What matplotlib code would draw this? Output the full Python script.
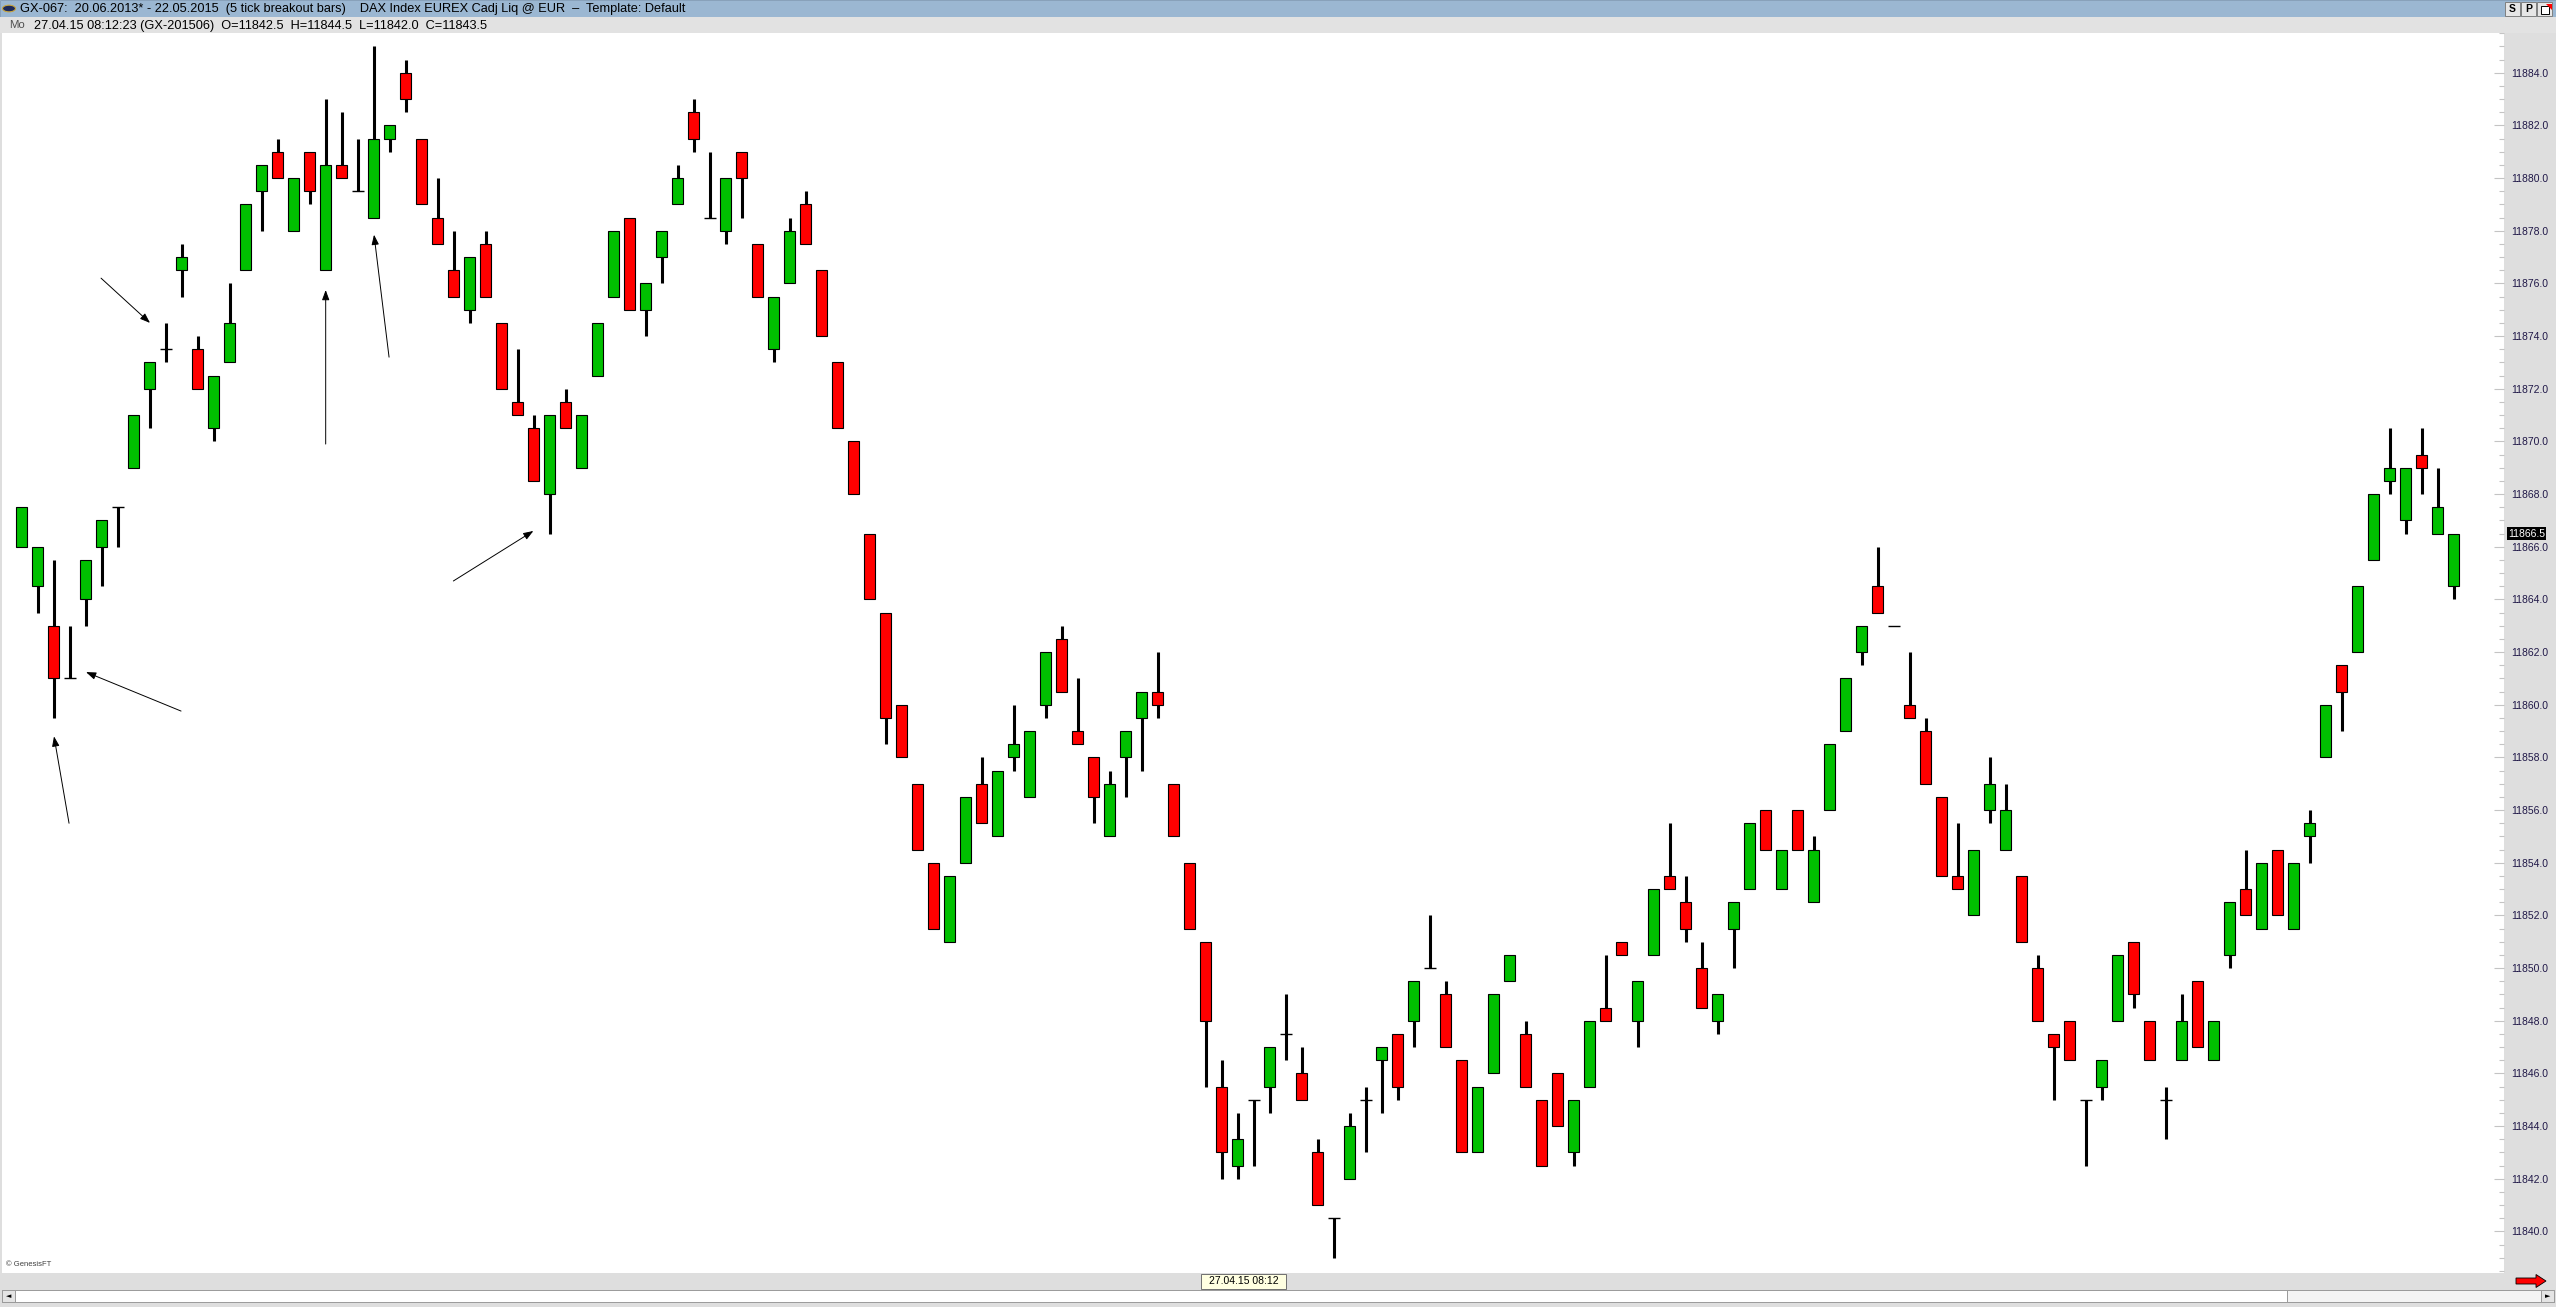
import numpy as np
import matplotlib
matplotlib.use("Agg")
import matplotlib.pyplot as plt
from matplotlib.patches import Rectangle, Polygon, Circle
from matplotlib.ticker import FormatStrFormatter

plt.rcParams['font.family'] = ['Liberation Sans', 'DejaVu Sans']

# 5 tick breakout bars, DAX EUREX
opens = [11866, 11864.5, 11863, 11861, 11864, 11866, 11867.5, 11869, 11872, 11873.5,
         11876.5, 11873.5, 11870.5, 11873, 11876.5, 11879.5, 11881, 11878, 11881, 11876.5,
         11880.5, 11879.5, 11878.5, 11881.5, 11884, 11881.5, 11878.5, 11876.5, 11875, 11877.5,
         11874.5, 11871.5, 11870.5, 11868, 11871.5, 11869, 11872.5, 11875.5, 11878.5, 11875,
         11877, 11879, 11882.5, 11878.5, 11878, 11881, 11877.5, 11873.5, 11876, 11879,
         11876.5, 11873, 11870, 11866.5, 11863.5, 11860, 11857, 11854, 11851, 11854,
         11857, 11855, 11858, 11856.5, 11860, 11862.5, 11859, 11858, 11855, 11858,
         11859.5, 11860.5, 11857, 11854, 11851, 11845.5, 11842.5, 11845, 11845.5, 11847.5,
         11846, 11843, 11840.5, 11842, 11845, 11846.5, 11847.5, 11848, 11850, 11849,
         11846.5, 11843, 11846, 11849.5, 11847.5, 11845, 11846, 11843, 11845.5, 11848.5,
         11851, 11848, 11850.5, 11853.5, 11852.5, 11850, 11848, 11851.5, 11853, 11856,
         11853, 11856, 11852.5, 11856, 11859, 11862, 11864.5, 11863, 11860, 11859,
         11856.5, 11853.5, 11852, 11856, 11854.5, 11853.5, 11850, 11847.5, 11848, 11845,
         11845.5, 11848, 11851, 11848, 11845, 11846.5, 11849.5, 11846.5, 11850.5, 11853,
         11851.5, 11854.5, 11851.5, 11855, 11858, 11861.5, 11862, 11865.5, 11868.5, 11867,
         11869.5, 11866.5, 11864.5]
highs = [11867.5, 11866, 11865.5, 11863, 11865.5, 11867, 11867.5, 11871, 11873, 11874.5,
         11877.5, 11874, 11872.5, 11876, 11879, 11880.5, 11881.5, 11880, 11881, 11883,
         11882.5, 11881.5, 11885, 11882, 11884.5, 11881.5, 11880, 11878, 11877, 11878,
         11874.5, 11873.5, 11871, 11871, 11872, 11871, 11874.5, 11878, 11878.5, 11876,
         11878, 11880.5, 11883, 11881, 11880, 11881, 11877.5, 11875.5, 11878.5, 11879.5,
         11876.5, 11873, 11870, 11866.5, 11863.5, 11860, 11857, 11854, 11853.5, 11856.5,
         11858, 11857.5, 11860, 11859, 11862, 11863, 11861, 11858, 11857.5, 11859,
         11860.5, 11862, 11857, 11854, 11851, 11846.5, 11844.5, 11845, 11847, 11849,
         11847, 11843.5, 11840.5, 11844.5, 11845.5, 11847, 11847.5, 11849.5, 11852, 11849.5,
         11846.5, 11845.5, 11849, 11850.5, 11848, 11845, 11846, 11845, 11848, 11850.5,
         11851, 11849.5, 11853, 11855.5, 11853.5, 11851, 11849, 11852.5, 11855.5, 11856,
         11854.5, 11856, 11855, 11858.5, 11861, 11863, 11866, 11863, 11862, 11859.5,
         11856.5, 11855.5, 11854.5, 11858, 11857, 11853.5, 11850.5, 11847.5, 11848, 11845,
         11846.5, 11850.5, 11851, 11848, 11845.5, 11849, 11849.5, 11848, 11852.5, 11854.5,
         11854, 11854.5, 11854, 11856, 11860, 11861.5, 11864.5, 11868, 11870.5, 11869,
         11870.5, 11869, 11866.5]
lows = [11866, 11863.5, 11859.5, 11861, 11863, 11864.5, 11866, 11869, 11870.5, 11873,
        11875.5, 11872, 11870, 11873, 11876.5, 11878, 11880, 11878, 11879, 11876.5,
        11880, 11879.5, 11878.5, 11881, 11882.5, 11879, 11877.5, 11875.5, 11874.5, 11875.5,
        11872, 11871, 11868.5, 11866.5, 11870.5, 11869, 11872.5, 11875.5, 11875, 11874,
        11876, 11879, 11881, 11878.5, 11877.5, 11878.5, 11875.5, 11873, 11876, 11877.5,
        11874, 11870.5, 11868, 11864, 11858.5, 11858, 11854.5, 11851.5, 11851, 11854,
        11855.5, 11855, 11857.5, 11856.5, 11859.5, 11860.5, 11858.5, 11855.5, 11855, 11856.5,
        11857.5, 11859.5, 11855, 11851.5, 11845.5, 11842, 11842, 11842.5, 11844.5, 11846.5,
        11845, 11841, 11839, 11842, 11843, 11844.5, 11845, 11847, 11850, 11847,
        11843, 11843, 11846, 11849.5, 11845.5, 11842.5, 11844, 11842.5, 11845.5, 11848,
        11850.5, 11847, 11850.5, 11853, 11851, 11848.5, 11847.5, 11850, 11853, 11854.5,
        11853, 11854.5, 11852.5, 11856, 11859, 11861.5, 11863.5, 11863, 11859.5, 11857,
        11853.5, 11853, 11852, 11855.5, 11854.5, 11851, 11848, 11845, 11846.5, 11842.5,
        11845, 11848, 11848.5, 11846.5, 11843.5, 11846.5, 11847, 11846.5, 11850, 11852,
        11851.5, 11852, 11851.5, 11854, 11858, 11859, 11862, 11865.5, 11868, 11866.5,
        11868, 11866.5, 11864]
closes = [11867.5, 11866, 11861, 11861, 11865.5, 11867, 11867.5, 11871, 11873, 11873.5,
          11877, 11872, 11872.5, 11874.5, 11879, 11880.5, 11880, 11880, 11879.5, 11880.5,
          11880, 11879.5, 11881.5, 11882, 11883, 11879, 11877.5, 11875.5, 11877, 11875.5,
          11872, 11871, 11868.5, 11871, 11870.5, 11871, 11874.5, 11878, 11875, 11876,
          11878, 11880, 11881.5, 11878.5, 11880, 11880, 11875.5, 11875.5, 11878, 11877.5,
          11874, 11870.5, 11868, 11864, 11859.5, 11858, 11854.5, 11851.5, 11853.5, 11856.5,
          11855.5, 11857.5, 11858.5, 11859, 11862, 11860.5, 11858.5, 11856.5, 11857, 11859,
          11860.5, 11860, 11855, 11851.5, 11848, 11843, 11843.5, 11845, 11847, 11847.5,
          11845, 11841, 11840.5, 11844, 11845, 11847, 11845.5, 11849.5, 11850, 11847,
          11843, 11845.5, 11849, 11850.5, 11845.5, 11842.5, 11844, 11845, 11848, 11848,
          11850.5, 11849.5, 11853, 11853, 11851.5, 11848.5, 11849, 11852.5, 11855.5, 11854.5,
          11854.5, 11854.5, 11854.5, 11858.5, 11861, 11863, 11863.5, 11863, 11859.5, 11857,
          11853.5, 11853, 11854.5, 11857, 11856, 11851, 11848, 11847, 11846.5, 11845,
          11846.5, 11850.5, 11849, 11846.5, 11845, 11848, 11847, 11848, 11852.5, 11852,
          11854, 11852, 11854, 11855.5, 11860, 11860.5, 11864.5, 11868, 11869, 11869,
          11869, 11867.5, 11866.5]

# hand drawn arrows: (bar index, price) start -> end
arrow_start_x = [4.96, 19.0, 22.96, 9.96, 2.96, 26.98]
arrow_start_y = [11876.2, 11869.9, 11873.2, 11859.76, 11855.5, 11864.7]
arrow_end_x = [8.02, 19.0, 22.02, 4.02, 2.02, 31.98]
arrow_end_y = [11874.5, 11875.75, 11877.85, 11861.24, 11858.8, 11866.6]

y_ticks = np.arange(11840, 11886, 2)
last_price = 11866.5

title_text = ("GX-067:  20.06.2013* - 22.05.2015  (5 tick breakout bars)    "
              "DAX Index EUREX Cadj Liq @ EUR  \u2013  Template: Default")
info_text = "27.04.15 08:12:23 (GX-201506)  O=11842.5  H=11844.5  L=11842.0  C=11843.5"
date_box_text = "27.04.15 08:12"

W, H = 2556, 1307
GREEN = '#00c000'
RED = '#ff0000'
PANEL = '#dedede'


def fx(px):
    return px / W


def fy(py):
    return 1 - py / H


fig = plt.figure(figsize=(W / 100, H / 100), dpi=100, facecolor=PANEL)

# chart area
ax = fig.add_axes([fx(2), fy(1273), fx(2504) - fx(2), fy(33) - fy(1273)])
ax.set_facecolor('white')

o = np.array(opens)
h = np.array(highs)
l = np.array(lows)
c = np.array(closes)
x = np.arange(len(o))

doji = o == c
has_range = h > l
ax.vlines(x[has_range], l[has_range], h[has_range], color='black', linewidth=2.2, zorder=1)
colors = np.where(c > o, GREEN, RED)
ax.bar(x[~doji], (c - o)[~doji], bottom=o[~doji], width=0.71, color=colors[~doji],
       edgecolor='black', linewidth=0.8, zorder=2)
ax.hlines(o[doji], x[doji] - 0.38, x[doji] + 0.38, color='black', linewidth=1.0, zorder=2)

for sx, sy, ex, ey in zip(arrow_start_x, arrow_start_y, arrow_end_x, arrow_end_y):
    ax.annotate('', xy=(ex, ey), xytext=(sx, sy),
                arrowprops=dict(arrowstyle='-|>,head_length=0.6,head_width=0.22',
                                color='black', lw=0.7, shrinkA=0, shrinkB=0))

ax.set_xlim(-1.23, 155.14)
ax.set_ylim(11838.42, 11885.51)
ax.set_xticks([])
ax.yaxis.tick_right()
ax.set_yticks(y_ticks)
ax.set_yticks(np.arange(11838.5, 11885.6, 0.5), minor=True)
ax.yaxis.set_major_formatter(FormatStrFormatter('%.1f'))
ax.tick_params(axis='y', which='major', direction='in', length=7, width=0.8,
               color='#c4c4c4', pad=5, labelsize=7.5, labelcolor='#201848')
ax.tick_params(axis='y', which='minor', direction='in', length=3.8, width=0.8,
               color='#c4c4c4')
for s in ax.spines.values():
    s.set_visible(False)

# last price marker on the scale
ax.text(1.0015, last_price, f"{last_price:.1f}", transform=ax.get_yaxis_transform(),
        ha='left', va='center', fontsize=7.5, color='white', zorder=5,
        bbox=dict(boxstyle='square,pad=0.12', fc='black', ec='none'))

# title bar and info bar
fig.patches.append(Rectangle((0, fy(17)), 1, fy(0) - fy(17), transform=fig.transFigure,
                             fc='#9bb7d2', ec='#7f9ab5', lw=0.6, zorder=0))
fig.patches.append(Rectangle((0, fy(33)), 1, fy(17) - fy(33), transform=fig.transFigure,
                             fc='#e2e2e2', ec='none', zorder=0))
fig.patches.append(Circle((fx(9), fy(8.5)), fx(6.5), transform=fig.transFigure,
                          fc='#1e2a5a', ec='#c8a640', lw=0.8, zorder=1))
fig.text(fx(20), fy(9), title_text, fontsize=9.2, color='black', va='center', ha='left')
fig.text(fx(9), fy(25.5), "Mo", fontsize=8.2, color='#505050', va='center', ha='left')
fig.text(fx(34), fy(25.5), info_text, fontsize=9.2, color='black', va='center', ha='left')

# S / P buttons top right
for bx, label in [(2505, 'S'), (2521, 'P'), (2537, '')]:
    fig.patches.append(Rectangle((fx(bx), fy(16)), fx(15), fy(2) - fy(16),
                                 transform=fig.transFigure, fc='#e6e6e6', ec='#808080',
                                 lw=0.7, zorder=2))
    if label:
        fig.text(fx(bx + 7.5), fy(9), label, fontsize=7.5, fontweight='bold',
                 ha='center', va='center', zorder=3)
fig.patches.append(Rectangle((fx(2541), fy(14)), fx(8), fy(6) - fy(14),
                             transform=fig.transFigure, fc='white', ec='black', lw=0.7, zorder=3))
fig.patches.append(Polygon([(fx(2546), fy(4)), (fx(2552), fy(4)), (fx(2552), fy(10))],
                           closed=True, transform=fig.transFigure, fc='red', ec='none', zorder=4))

# bottom strip: date box, scroll bar, red arrow
fig.patches.append(Rectangle((fx(1201), fy(1289)), fx(85), fy(1274) - fy(1289),
                             transform=fig.transFigure, fc='#ffffe1', ec='#707070',
                             lw=0.7, zorder=2))
fig.text(fx(1243.5), fy(1281.5), date_box_text, fontsize=7.5, ha='center', va='center', zorder=3)
fig.patches.append(Rectangle((fx(2), fy(1302)), fx(2552), fy(1290) - fy(1302),
                             transform=fig.transFigure, fc='white', ec='#9a9a9a',
                             lw=0.7, zorder=2))
fig.patches.append(Rectangle((fx(2287), fy(1302)), fx(254), fy(1290) - fy(1302),
                             transform=fig.transFigure, fc='#f4f4f4', ec='#9a9a9a',
                             lw=0.7, zorder=2))
for bx, arrow in [(2, '\u25c4'), (2541, '\u25ba')]:
    fig.patches.append(Rectangle((fx(bx), fy(1302)), fx(13), fy(1290) - fy(1302),
                                 transform=fig.transFigure, fc='#e4e4e4', ec='#9a9a9a',
                                 lw=0.7, zorder=3))
    fig.text(fx(bx + 6.5), fy(1296), arrow, fontsize=5, ha='center', va='center',
             family='DejaVu Sans', zorder=4)
fig.patches.append(Polygon([(fx(2516), fy(1278)), (fx(2536), fy(1278)), (fx(2536), fy(1274.5)),
                            (fx(2546), fy(1281)), (fx(2536), fy(1287.5)), (fx(2536), fy(1284)),
                            (fx(2516), fy(1284))],
                           closed=True, transform=fig.transFigure, fc='#ff0000', ec='black',
                           lw=0.6, zorder=3))

fig.text(fx(6), fy(1264), "\u00a9 GenesisFT", fontsize=5.5, color='#404040',
         ha='left', va='center')

fig.savefig("out.png", dpi=100, facecolor=PANEL)
